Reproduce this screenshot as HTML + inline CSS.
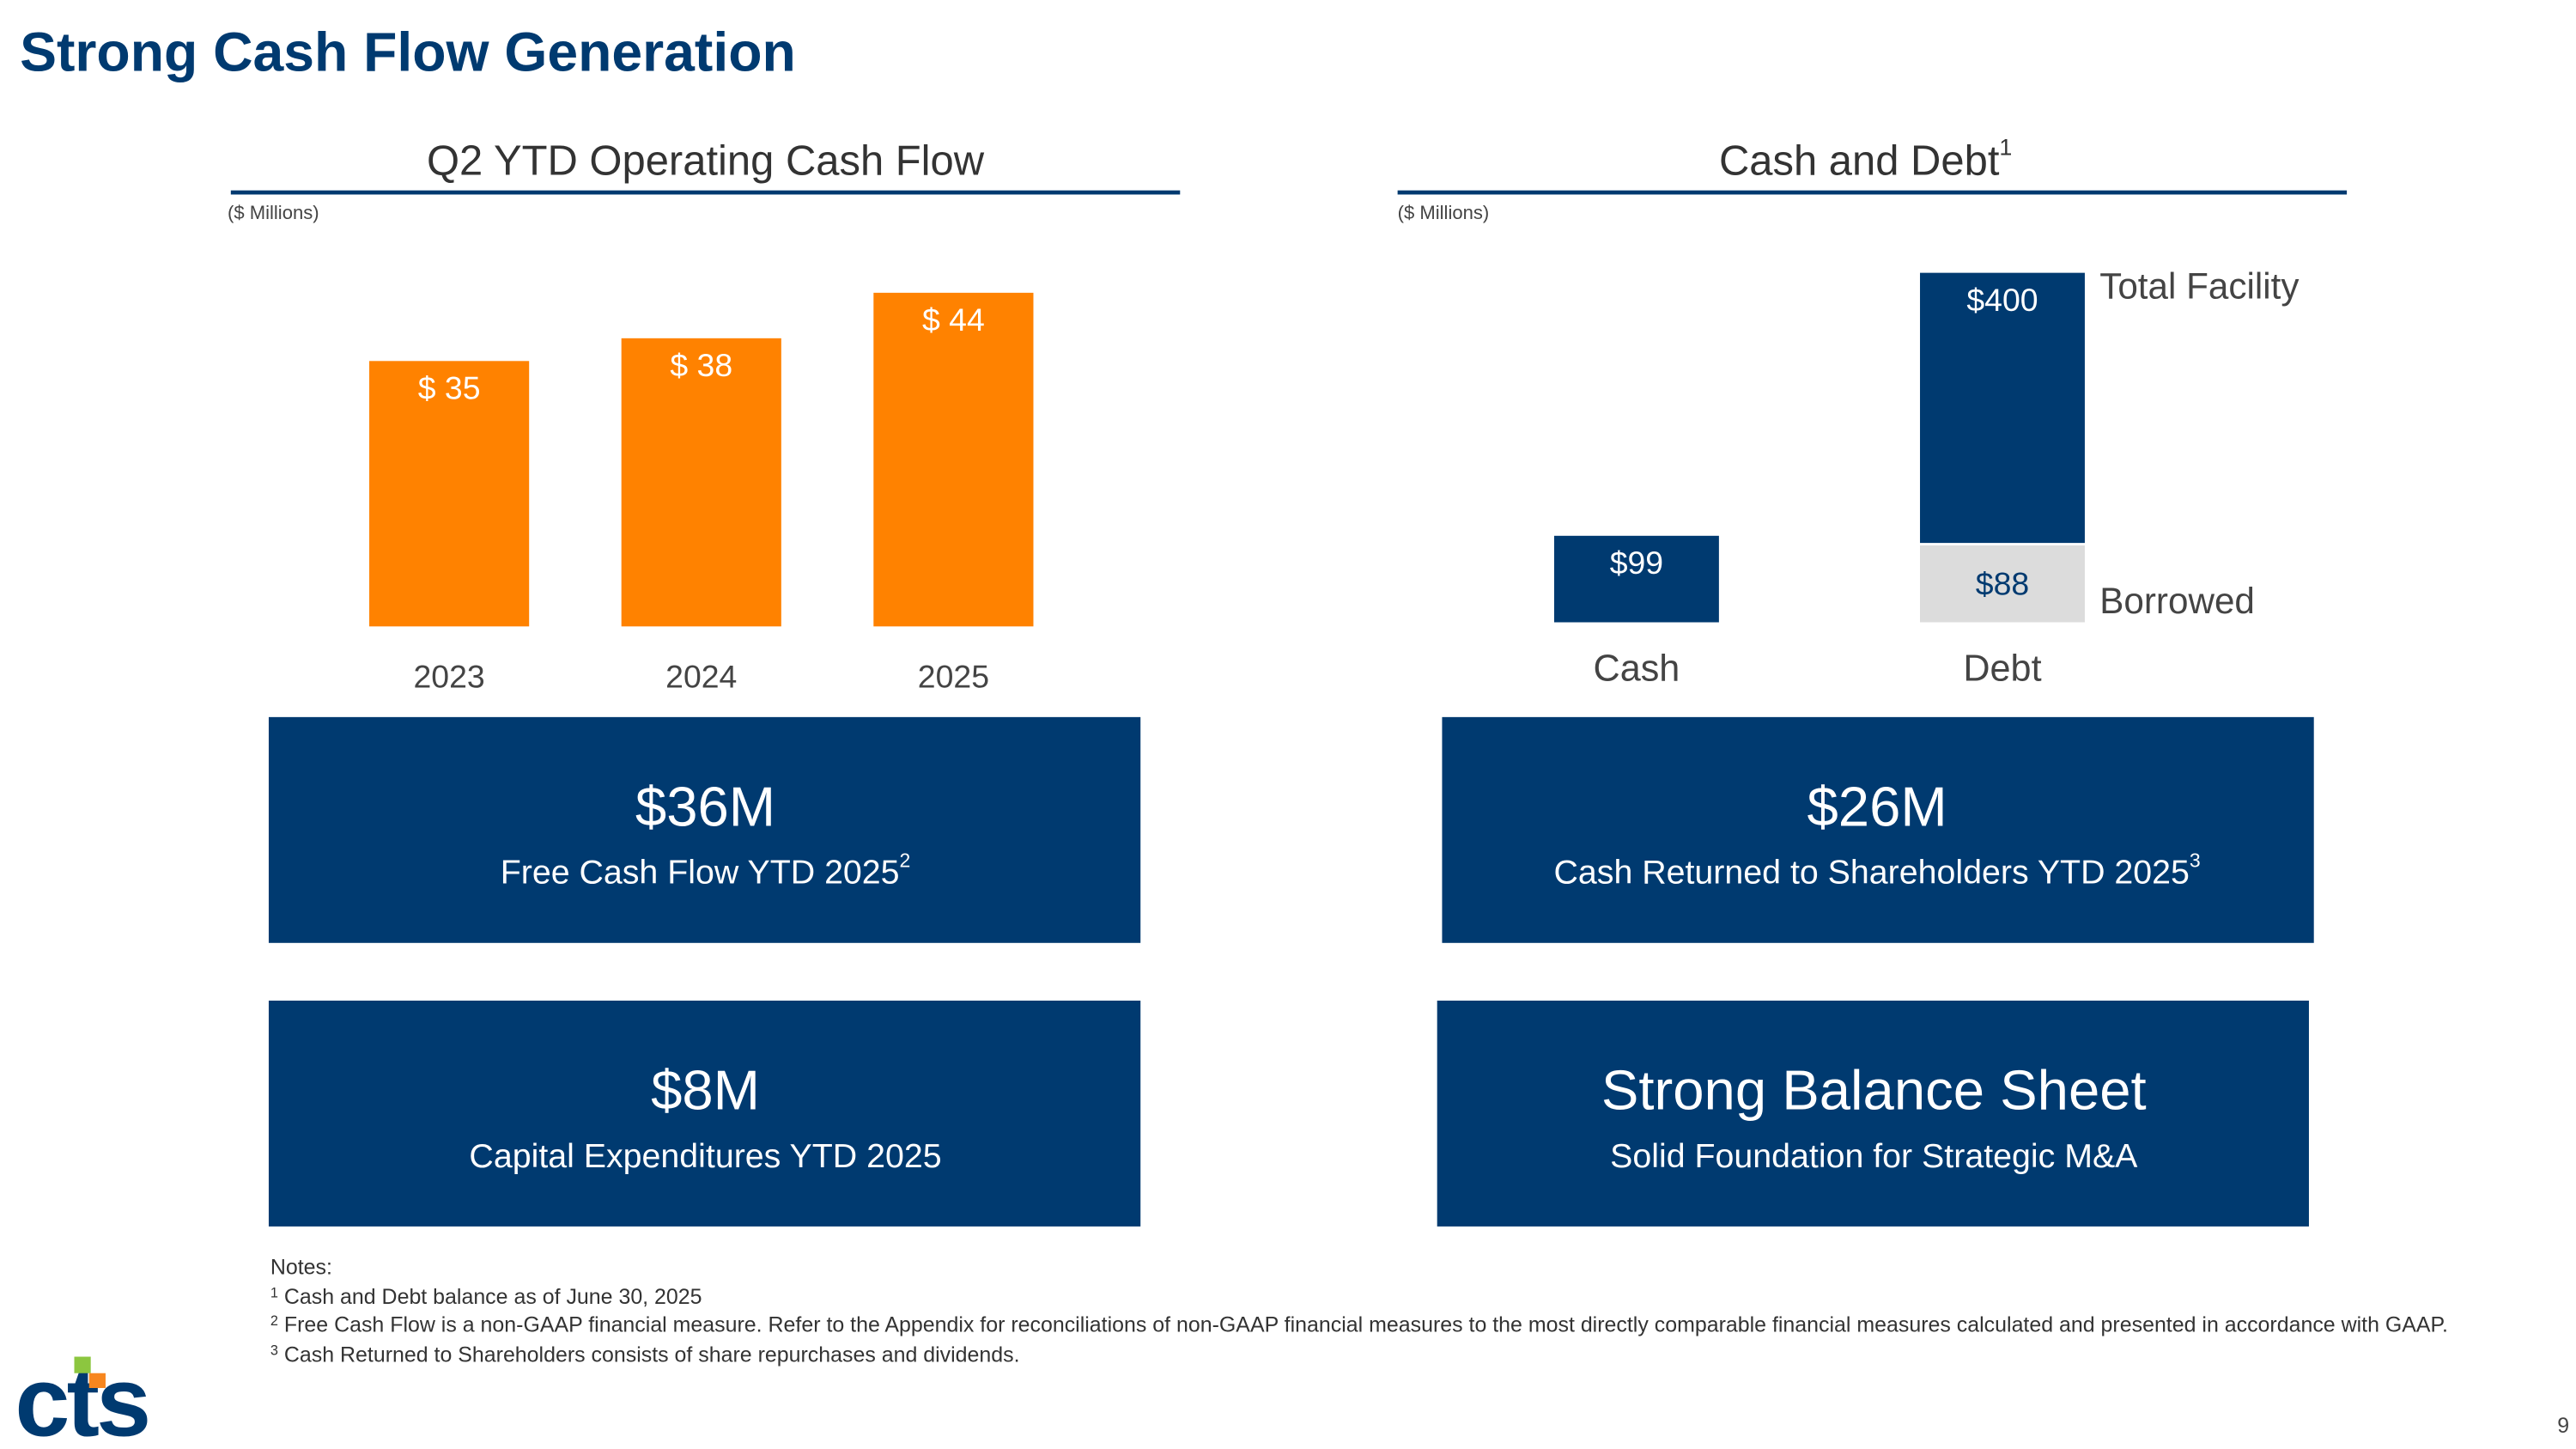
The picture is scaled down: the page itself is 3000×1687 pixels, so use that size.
<!DOCTYPE html>
<html><head><meta charset="utf-8"><style>
html,body{margin:0;padding:0;background:#fff;}
svg{display:block;font-family:"Liberation Sans",sans-serif;}
</style></head><body>
<svg id="s" width="3000" height="1687" viewBox="0 0 1563 879" xmlns="http://www.w3.org/2000/svg">
<text x="12" y="43" font-size="33.5" font-weight="bold" fill="#003a70">Strong Cash Flow Generation</text>

<g>
<text x="428" y="106" font-size="25.5" fill="#333" text-anchor="middle">Q2 YTD Operating Cash Flow</text>
<rect x="140" y="115.5" width="576" height="2.5" fill="#003a70"/>
<text x="138" y="133" font-size="11.5" fill="#444">($ Millions)</text>
<g id="lbars"></g>
</g>

<g>
<text x="1132" y="106" font-size="25.5" fill="#333" text-anchor="middle">Cash and Debt<tspan font-size="14" dy="-12">1</tspan></text>
<rect x="848" y="115.5" width="576" height="2.5" fill="#003a70"/>
<text x="848" y="133" font-size="11.5" fill="#444">($ Millions)</text>
<g id="rbars"></g>
<text x="1274" y="181" font-size="22" fill="#444">Total Facility</text>
<text x="1274" y="372" font-size="22" fill="#444">Borrowed</text>
</g>

<g>
<rect x="163" y="435" width="529" height="137" fill="#003a70"/>
<text x="428" y="501" font-size="34" fill="#fff" text-anchor="middle">$36M</text>
<text x="428" y="536" font-size="20.5" fill="#fff" text-anchor="middle">Free Cash Flow YTD 2025<tspan font-size="12" dy="-10">2</tspan></text>
</g>
<g>
<rect x="875" y="435" width="529" height="137" fill="#003a70"/>
<text x="1139" y="501" font-size="34" fill="#fff" text-anchor="middle">$26M</text>
<text x="1139" y="536" font-size="20.5" fill="#fff" text-anchor="middle">Cash Returned to Shareholders YTD 2025<tspan font-size="12" dy="-10">3</tspan></text>
</g>
<g>
<rect x="163" y="607" width="529" height="137" fill="#003a70"/>
<text x="428" y="673" font-size="34" fill="#fff" text-anchor="middle">$8M</text>
<text x="428" y="708" font-size="20.5" fill="#fff" text-anchor="middle">Capital Expenditures YTD 2025</text>
</g>
<g>
<rect x="872" y="607" width="529" height="137" fill="#003a70"/>
<text x="1137" y="673" font-size="34" fill="#fff" text-anchor="middle">Strong Balance Sheet</text>
<text x="1137" y="708" font-size="20.5" fill="#fff" text-anchor="middle">Solid Foundation for Strategic M&amp;A</text>
</g>

<g font-size="13" fill="#333">
<text x="164" y="773">Notes:</text>
<text x="164" y="791"><tspan font-size="8.5" dy="-4">1</tspan><tspan dy="4"> Cash and Debt balance as of June 30, 2025</tspan></text>
<text x="164" y="808"><tspan font-size="8.5" dy="-4">2</tspan><tspan dy="4"> Free Cash Flow is a non-GAAP financial measure. Refer to the Appendix for reconciliations of non-GAAP financial measures to the most directly comparable financial measures calculated and presented in accordance with GAAP.</tspan></text>
<text x="164" y="826"><tspan font-size="8.5" dy="-4">3</tspan><tspan dy="4"> Cash Returned to Shareholders consists of share repurchases and dividends.</tspan></text>
</g>

<g>
<text x="9" y="871" font-size="60" font-weight="bold" fill="#003a70" letter-spacing="-2">cts</text>
<rect x="45" y="823" width="10" height="10" fill="#8cc63f"/>
<rect x="54" y="833" width="10" height="9" fill="#f7861e"/>
</g>
<text x="1559" y="869" font-size="13" fill="#444" text-anchor="end">9</text>
</svg>
<script>
const years = ["2023","2024","2025"];
const ocfValues = [35, 38, 44];
const cdCategories = ["Cash","Debt"];
const cashValue = [99];
const borrowedValue = [88];
const facilityValue = [400];

const NS="http://www.w3.org/2000/svg";
function mk(tag,attrs,parent,txt){const e=document.createElementNS(NS,tag);for(const k in attrs)e.setAttribute(k,attrs[k]);if(txt!==undefined)e.textContent=txt;parent.appendChild(e);return e;}

const lY=v=>380-v*4.6;
const lX=i=>224+i*153;
const lg=document.getElementById('lbars');
years.forEach((y,i)=>{
  const v=ocfValues[i];
  const r=mk('rect',{x:lX(i),y:lY(v),width:97,height:380-lY(v),fill:'#ff8200'},lg);
  
  
  const t=mk('text',{x:lX(i)+48.5,y:lY(v)+23,'font-size':19.5,fill:'#fff','text-anchor':'middle'},lg,'$ '+v);
  
  
  const a=mk('text',{x:lX(i)+48.5,y:417,'font-size':19.5,fill:'#444','text-anchor':'middle'},lg,y);
  
  
});

const rY=v=>377.5-v*0.53;
const rX=i=>943+i*222;
const rg=document.getElementById('rbars');
let c=mk('rect',{x:rX(0),y:rY(cashValue[0]),width:100,height:377.5-rY(cashValue[0]),fill:'#003a70'},rg);


let ct=mk('text',{x:rX(0)+50,y:rY(cashValue[0])+23,'font-size':19.5,fill:'#fff','text-anchor':'middle'},rg,'$'+cashValue[0]);


let b=mk('rect',{x:rX(1),y:rY(borrowedValue[0]),width:100,height:377.5-rY(borrowedValue[0]),fill:'#dcdcdc'},rg);


let f=mk('rect',{x:rX(1),y:rY(facilityValue[0]),width:100,height:rY(borrowedValue[0])-rY(facilityValue[0])-1.5,fill:'#003a70'},rg);


let bt=mk('text',{x:rX(1)+50,y:rY(borrowedValue[0])+30,'font-size':19.5,fill:'#003a70','text-anchor':'middle'},rg,'$'+borrowedValue[0]);


let ft=mk('text',{x:rX(1)+50,y:rY(facilityValue[0])+23,'font-size':19.5,fill:'#fff','text-anchor':'middle'},rg,'$'+facilityValue[0]);


cdCategories.forEach((n,i)=>{
  const t=mk('text',{x:rX(i)+50,y:413,'font-size':22.5,fill:'#444','text-anchor':'middle'},rg,n);
  
  
});
</script>
</body></html>
